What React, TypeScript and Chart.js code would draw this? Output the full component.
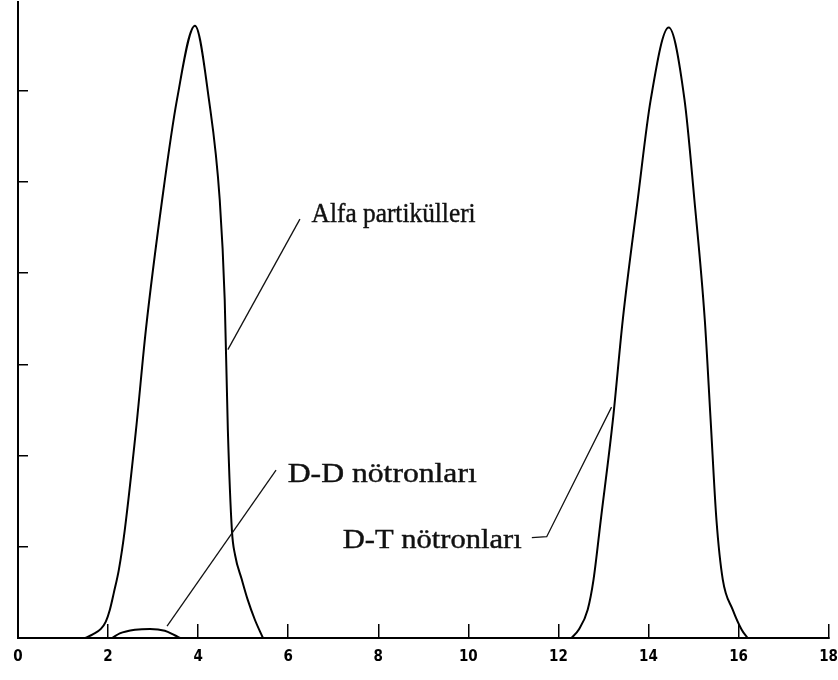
import React, { useEffect, useRef } from "react";
import { Chart, registerables } from "chart.js";

Chart.register(...registerables);

// Energy (MeV) and relative intensity
const alfaX = [1.49, 1.66, 1.84, 1.95, 2.04, 2.13, 2.24, 2.37, 2.62, 2.84, 3.2, 3.53, 3.93, 4.24, 4.48, 4.59, 4.66, 4.75, 4.82, 4.97, 5.1, 5.26, 5.44];
const alfaY = [0, 0.04, 0.1, 0.18, 0.31, 0.5, 0.75, 1.18, 2.28, 3.38, 4.8, 5.9, 6.71, 5.9, 4.8, 3.71, 2.28, 1.18, 0.91, 0.64, 0.42, 0.2, 0];

const ddX = [2.09, 2.26, 2.6, 2.93, 3.26, 3.48, 3.6];
const ddY = [0, 0.05, 0.09, 0.1, 0.08, 0.03, 0];

const dtX = [12.29, 12.45, 12.65, 12.78, 12.94, 13.21, 13.43, 13.76, 14.05, 14.45, 14.8, 15.02, 15.25, 15.38, 15.51, 15.65, 15.87, 16.07, 16.2];
const dtY = [0, 0.09, 0.31, 0.64, 1.29, 2.39, 3.49, 4.8, 5.9, 6.69, 5.9, 4.8, 3.49, 2.39, 1.29, 0.64, 0.31, 0.09, 0];

const xMin = 0;
const xMax = 18;
const xStep = 2;
const yMax = 6.97;
const yStep = 1;

// Annotation labels (text anchor in data coordinates) and their leader lines
const labelTexts = ["Alfa partikülleri", "D-D nötronları", "D-T nötronları"];
const labelX = [6.52, 5.99, 7.21];
const labelY = [4.56, 1.71, 0.99];
const leaderAlfa = [[6.26, 4.59], [4.66, 3.16]];
const leaderDD = [[5.73, 1.84], [3.31, 0.13]];
const leaderDT = [[11.41, 1.1], [11.74, 1.11], [13.18, 2.53]];

const toPoints = (xs: number[], ys: number[]) => xs.map((x, i) => ({ x, y: ys[i] }));

const annotationPlugin = {
  id: "annotations",
  afterDatasetsDraw(chart: any, _args: any, opts: any) {
    const { ctx, scales } = chart;
    const sx = scales.x;
    const sy = scales.y;
    ctx.save();
    ctx.strokeStyle = "#111";
    ctx.lineWidth = 1.3;
    [leaderAlfa, leaderDD, leaderDT].forEach((line) => {
      ctx.beginPath();
      line.forEach((p, i) => {
        const px = sx.getPixelForValue(p[0]);
        const py = sy.getPixelForValue(p[1]);
        if (i === 0) ctx.moveTo(px, py);
        else ctx.lineTo(px, py);
      });
      ctx.stroke();
    });
    ctx.fillStyle = "#111";
    ctx.strokeStyle = "#111";
    ctx.lineWidth = 0.4;
    ctx.font = opts.font;
    ctx.textBaseline = "alphabetic";
    ctx.textAlign = "left";
    labelTexts.forEach((t, i) => {
      const px = sx.getPixelForValue(labelX[i]);
      const py = sy.getPixelForValue(labelY[i]);
      const w = ctx.measureText(t).width;
      const k = opts.widths[i] / w;
      ctx.save();
      ctx.translate(px, py);
      ctx.scale(k, 1);
      ctx.fillText(t, 0, 0);
      ctx.strokeText(t, 0, 0);
      ctx.restore();
    });
    ctx.restore();
  },
};

export default function App() {
  const ref = useRef<HTMLCanvasElement | null>(null);

  useEffect(() => {
    if (!ref.current) return;
    const lineStyle = {
      borderColor: "#000",
      borderWidth: 2,
      pointRadius: 0,
      fill: false,
      cubicInterpolationMode: "monotone" as const,
    };
    const chart = new Chart(ref.current, {
      type: "line",
      data: {
        datasets: [
          { label: "Alfa partikülleri", data: toPoints(alfaX, alfaY), ...lineStyle },
          { label: "D-D nötronları", data: toPoints(ddX, ddY), ...lineStyle },
          { label: "D-T nötronları", data: toPoints(dtX, dtY), ...lineStyle },
        ],
      },
      options: {
        animation: false,
        responsive: false,
        layout: { padding: { left: 0, right: 9, top: 2, bottom: 0 } },
        plugins: {
          legend: { display: false },
          tooltip: { enabled: false },
          annotations: {
            font: '27px "Liberation Serif", "Times New Roman", serif',
            widths: [164, 189, 179],
          },
        } as any,
        scales: {
          x: {
            type: "linear",
            min: xMin,
            max: xMax,
            position: "bottom",
            ticks: {
              stepSize: xStep,
              color: "#000",
              padding: 0,
              maxRotation: 0,
              autoSkip: false,
              includeBounds: false,
              font: {
                family: '"DejaVu Sans Condensed", "DejaVu Sans", sans-serif',
                size: 15,
                weight: "bold",
                lineHeight: "66px",
              },
            },
            grid: { drawOnChartArea: false, drawTicks: true, tickLength: -14, color: "#000", lineWidth: 1.5 },
            border: { display: true, color: "#000", width: 2 },
            afterFit: (s: any) => {
              s.height = 42;
            },
          },
          y: {
            type: "linear",
            min: 0,
            max: yMax,
            ticks: { display: false, stepSize: yStep, includeBounds: false },
            grid: { drawOnChartArea: false, drawTicks: true, tickLength: -10, color: "#000", lineWidth: 1.5 },
            border: { display: true, color: "#000", width: 2 },
            afterFit: (s: any) => {
              s.width = 18;
            },
          },
        },
      },
      plugins: [annotationPlugin],
    });
    return () => chart.destroy();
  }, []);

  return (
    <div style={{ position: "absolute", left: 0, top: 0, width: 838, height: 680, background: "#fff" }}>
      <canvas ref={ref} width={838} height={680} style={{ display: "block" }} />
    </div>
  );
}
